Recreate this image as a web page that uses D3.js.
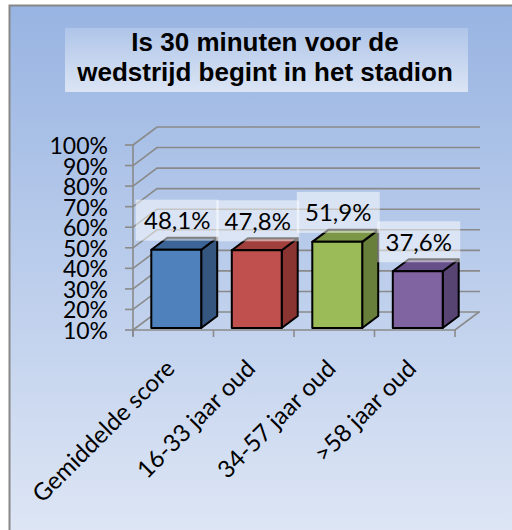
<!DOCTYPE html>
<html><head><meta charset="utf-8">
<script src="https://cdn.jsdelivr.net/npm/d3@7"></script>
<style>body{margin:0;background:#fff}svg{display:block}</style>
</head><body><svg id="c" width="512" height="530"></svg>
<script>
const categories = ["Gemiddelde score", "16-33 jaar oud", "34-57 jaar oud", ">58 jaar oud"];
const values = [48.1, 47.8, 51.9, 37.6];
const valueLabels = ["48,1%", "47,8%", "51,9%", "37,6%"];
const yTicks = [10, 20, 30, 40, 50, 60, 70, 80, 90, 100];
const titleLines = ["Is 30 minuten voor de", "wedstrijd begint in het stadion"];
const frontColors = ["#4f81bd", "#c0504d", "#9bbb59", "#8064a2"];
const sideColors = ["#34567f", "#8a3432", "#677f3a", "#574473"];
const topColors = ["#3c6496", "#a03f3c", "#7b9645", "#67508a"];

const svg = d3.select("#c");
const defs = svg.append("defs");
const bg = defs.append("linearGradient").attr("id", "bg").attr("x1", 0).attr("y1", 0).attr("x2", 0).attr("y2", 1);
bg.append("stop").attr("offset", 0).attr("stop-color", "#98b4e2");
bg.append("stop").attr("offset", 1).attr("stop-color", "#dfe7f5");
const tg = defs.append("linearGradient").attr("id", "tg").attr("x1", 0).attr("y1", 0).attr("x2", 0).attr("y2", 1);
tg.append("stop").attr("offset", 0).attr("stop-color", "#fff").attr("stop-opacity", 0.2);
tg.append("stop").attr("offset", 1).attr("stop-color", "#fff").attr("stop-opacity", 0.6);

svg.append("rect").attr("x", 9.5).attr("y", 5.5).attr("width", 520).attr("height", 540)
  .attr("fill", "url(#bg)").attr("stroke", "#878787").attr("stroke-width", 2);

// title
svg.append("rect").attr("x", 65).attr("y", 28).attr("width", 403).attr("height", 64).attr("fill", "url(#tg)");
svg.append("g").selectAll("text").data(titleLines).join("text")
  .attr("x", 265).attr("y", (d, i) => 51 + i * 30)
  .attr("text-anchor", "middle")
  .attr("font-family", "'Liberation Sans', Arial, sans-serif")
  .attr("font-weight", "bold").attr("font-size", 26).attr("fill", "#000")
  .text(d => d);

// scales
const x = d3.scaleBand().domain(categories).range([133, 455]).paddingInner(0.38).paddingOuter(0.19);
const y = d3.scaleLinear().domain([10, 100]).range([330, 145]);
const D = [24, -18];       // floor depth
const off = [3, -2];       // bar front offset
const bd = [16, -12];      // bar depth
const grid = "#8a8a8a";
const font = "Lato, 'Open Sans', sans-serif";

const g = svg.append("g");
yTicks.forEach(t => {
  const yy = y(t);
  g.append("path").attr("d", `M133,${yy}L${133 + D[0]},${yy + D[1]}L480,${yy + D[1]}`)
    .attr("fill", "none").attr("stroke", grid).attr("stroke-width", 1.6);
  g.append("line").attr("x1", 125).attr("x2", 133).attr("y1", yy).attr("y2", yy)
    .attr("stroke", grid).attr("stroke-width", 1.6);
});
g.append("line").attr("x1", 133).attr("x2", 133).attr("y1", y(100)).attr("y2", y(10) + 6)
  .attr("stroke", grid).attr("stroke-width", 1.6);
g.append("path").attr("d", `M133,${y(10)}L455,${y(10)}L${455 + D[0]},${y(10) + D[1]}`)
  .attr("fill", "none").attr("stroke", grid).attr("stroke-width", 1.6);
const bounds = categories.map((c, i) => 133 + i * x.step());
bounds.push(455);
bounds.forEach(b => g.append("line").attr("x1", b).attr("x2", b).attr("y1", y(10)).attr("y2", y(10) + 7)
  .attr("stroke", grid).attr("stroke-width", 1.6));

// y labels
svg.append("g").selectAll("text").data(yTicks).join("text")
  .attr("x", 108).attr("y", d => y(d) + 9)
  .attr("text-anchor", "end").attr("font-family", font).attr("font-size", 23).attr("fill", "#000")
  .text(d => d + "%");

// bars
const bars = svg.append("g").attr("stroke", "#000").attr("stroke-width", 2).attr("stroke-linejoin", "round");
categories.forEach((c, i) => {
  const x0 = x(c) + off[0], w = x.bandwidth();
  const yt = y(values[i]) + off[1], yb = y(10) + off[1];
  bars.append("path").attr("fill", sideColors[i])
    .attr("d", `M${x0 + w},${yt}L${x0 + w + bd[0]},${yt + bd[1]}L${x0 + w + bd[0]},${yb + bd[1]}L${x0 + w},${yb}Z`);
  bars.append("path").attr("fill", topColors[i])
    .attr("d", `M${x0},${yt}L${x0 + w},${yt}L${x0 + w + bd[0]},${yt + bd[1]}L${x0 + bd[0]},${yt + bd[1]}Z`);
  bars.append("rect").attr("fill", frontColors[i]).attr("x", x0).attr("y", yt).attr("width", w).attr("height", yb - yt);
});

// value labels
const lab = svg.append("g");
categories.forEach((c, i) => {
  const cx = x(c) + off[0] + x.bandwidth() / 2 + 1;
  const bottom = y(values[i]) + off[1] - 9;
  lab.append("rect").attr("x", cx - 41.5).attr("y", bottom - 41).attr("width", 83).attr("height", 41)
    .attr("fill", "#fff").attr("fill-opacity", 0.5);
  lab.append("text").attr("x", cx).attr("y", bottom - 41 + 29.5).attr("text-anchor", "middle")
    .attr("font-family", font).attr("font-size", 24).attr("fill", "#000").text(valueLabels[i]);
});

// category labels
svg.append("g").selectAll("text").data(categories).join("text")
  .attr("transform", d => `translate(${x(d) + x.bandwidth() / 2 + 3},370) rotate(-45)`)
  .attr("text-anchor", "end").attr("font-family", font).attr("font-size", 24).attr("fill", "#000")
  .text(d => d);
</script></body></html>
